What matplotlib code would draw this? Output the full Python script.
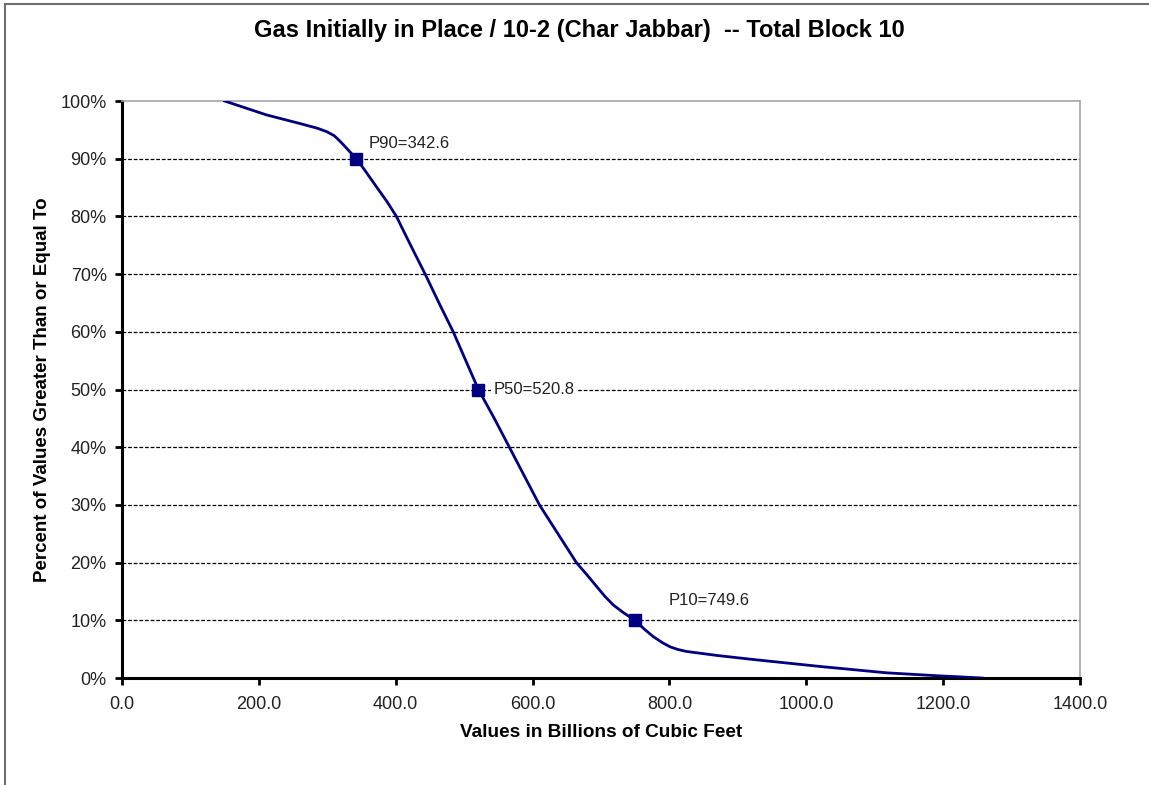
import numpy as np
from matplotlib import pyplot as plt
from matplotlib.lines import Line2D
from matplotlib.ticker import FuncFormatter

# exceedance curve, volume (bcf) vs percent of values >= volume
gas_values = [150, 211, 260, 285, 299, 310, 318, 326, 333, 342.6, 356, 372, 387, 401, 413,
              426, 443, 464, 484, 520.8, 544, 566, 588, 610, 637, 664, 680, 694, 706, 718,
              733, 749.6, 763, 776, 790, 801, 812, 825, 870, 923, 1020, 1117, 1190, 1257]
percent_ge = [100, 97.6, 96.1, 95.3, 94.7, 94.0, 93.1, 92.1, 91.2, 90, 87.8, 85.1, 82.6, 80,
              77.1, 74.0, 70, 64.8, 60, 50, 45, 40, 35, 30, 25, 20, 17.8, 15.8, 14.1, 12.65,
              11.3, 10, 8.5, 7.2, 6.1, 5.4, 4.95, 4.6, 3.9, 3.2, 2.0, 0.9, 0.4, 0]

p_names = ["P90", "P50", "P10"]
p_values = [342.6, 520.8, 749.6]
p_percent = [90, 50, 10]
p_offsets = [(9, 11), (11, 0), (24, 14)]

navy = "#000080"
plt.rcParams['font.family'] = ['Liberation Sans', 'DejaVu Sans']

fig = plt.figure(figsize=(11.49, 7.85), dpi=100)
ax = fig.add_axes([0.1062, 0.1363, 0.8338, 0.735])

# outer chart frame (only top and left edges visible)
fig.add_artist(Line2D([0.0045, 1.0], [0.995, 0.995], transform=fig.transFigure,
                      color="#6e6e6e", lw=1.5))
fig.add_artist(Line2D([0.0045, 0.0045], [0.0, 0.995], transform=fig.transFigure,
                      color="#6e6e6e", lw=1.5))

for y in range(10, 100, 10):
    ax.axhline(y, color="black", lw=0.9, ls=(0, (3, 1.5)), zorder=1)

ax.plot(gas_values, percent_ge, color=navy, lw=2.0, zorder=3, solid_joinstyle="round")
ax.plot(p_values, p_percent, ls="none", marker="s", ms=9, color=navy, zorder=4)

for name, v, p, off in zip(p_names, p_values, p_percent, p_offsets):
    ax.annotate("%s=%.1f" % (name, v), (v, p), xytext=off, textcoords="offset points",
                ha="left", va="center", fontsize=12, color="#222222", zorder=5,
                bbox=dict(boxstyle="square,pad=0.15", fc="white", ec="none"))

ax.set_xlim(0, 1400)
ax.set_ylim(0, 100)
ax.set_xticks(np.arange(0, 1401, 200))
ax.set_yticks(np.arange(0, 101, 10))
ax.xaxis.set_major_formatter(FuncFormatter(lambda v, pos: "%.1f" % v))
ax.yaxis.set_major_formatter(FuncFormatter(lambda v, pos: "%d%%" % v))
ax.tick_params(axis="both", labelsize=13, width=2, length=5, direction="out",
               colors="black", labelcolor="#222222")
ax.tick_params(axis="x", pad=8)
ax.tick_params(axis="y", pad=6)

for side in ["left", "bottom"]:
    ax.spines[side].set_linewidth(2.2)
    ax.spines[side].set_color("black")
for side in ["top", "right"]:
    ax.spines[side].set_linewidth(1.2)
    ax.spines[side].set_color("#a6a6a6")

ax.set_xlabel("Values in Billions of Cubic Feet", fontsize=13.7, fontweight="bold", labelpad=8)
ax.set_ylabel("Percent of Values Greater Than or Equal To", fontsize=13.5,
              fontweight="bold", labelpad=7)
fig.text(0.504, 0.961, "Gas Initially in Place / 10-2 (Char Jabbar)  -- Total Block 10",
         ha="center", va="center", fontsize=17, fontweight="bold")

plt.savefig("out.png", dpi=100)
